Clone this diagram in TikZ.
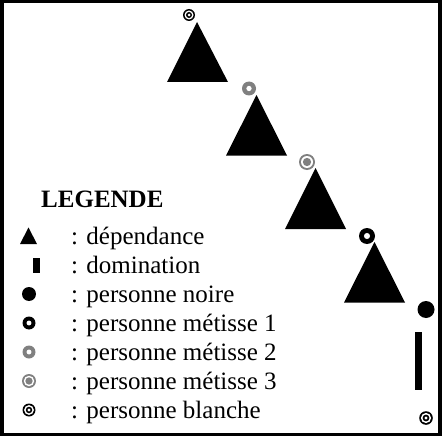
\documentclass[tikz,border=0pt]{standalone}
\usepackage{fontspec}
\setmainfont{Liberation Serif}
\definecolor{mgray}{RGB}{128,128,128}
\tikzset{
  lbl/.style={anchor=base west, inner sep=0pt, font=\fontsize{25}{30}\selectfont},
  ttl/.style={anchor=base west, inner sep=0pt, font=\fontsize{25}{30}\selectfont\bfseries},
}
\newcommand\pNoire[2]{\fill[black] (#1) circle (#2pt);}
\newcommand\pMetA[2]{\fill[black] (#1) circle (#2pt); \fill[white] (#1) circle ({0.38*#2pt});}
\newcommand\pMetB[2]{\fill[mgray] (#1) circle (#2pt); \fill[white] (#1) circle ({0.38*#2pt});}
\newcommand\pMetC[2]{\fill[mgray] (#1) circle (#2pt); \fill[white] (#1) circle ({0.75*#2pt}); \fill[mgray] (#1) circle ({0.52*#2pt});}
\newcommand\pBlanche[2]{\fill[black] (#1) circle (#2pt); \fill[white] (#1) circle ({0.75*#2pt}); \fill[black] (#1) circle ({0.5*#2pt}); \fill[white] (#1) circle ({0.25*#2pt});}
\begin{document}
\begin{tikzpicture}[x=1pt,y=-1pt]
\useasboundingbox (0,0) rectangle (442,436);
\fill[white] (0,0) rectangle (442,436);
\draw[line width=3.5pt] (2,1.75) rectangle (440,434.25);

% chain of triangles
\fill[black] (167,82) -- (228,82) -- (197,22) -- cycle;
\fill[black] (226,155.5) -- (287,155.5) -- (256.5,95) -- cycle;
\fill[black] (285,229) -- (346,229) -- (315.5,168) -- cycle;
\fill[black] (344,302.5) -- (405,302.5) -- (374.5,242) -- cycle;
\pBlanche{189,15}{6}
\pMetB{249,88.5}{7}
\pMetC{307,162}{8}
\pMetA{367,236}{8}

% right column
\pNoire{426,309.5}{8.5}
\fill[black] (415,332) rectangle (422,390);
\pBlanche{426,418}{6.8}

% legend
\node[ttl] (leg) at (41,207) {LEGENDE};
\fill[black] (20,244) -- (37,244) -- (28.5,227.5) -- cycle;
\fill[black] (33,258) rectangle (40,273);
\pNoire{29,294}{7}
\pMetA{29,323}{6.5}
\pMetB{29,352}{6.5}
\pMetC{29,381}{7}
\pBlanche{29,410}{6.5}
\node[lbl] (l1) at (71,244) {: dépendance};
\node[lbl] (l2) at (71,273) {: domination};
\node[lbl] (l3) at (71,302) {: personne noire};
\node[lbl] (l4) at (71,331) {: personne métisse 1};
\node[lbl] (l5) at (71,360) {: personne métisse 2};
\node[lbl] (l6) at (71,389) {: personne métisse 3};
\node[lbl] (l7) at (71,418) {: personne blanche};
\end{tikzpicture}
\end{document}
